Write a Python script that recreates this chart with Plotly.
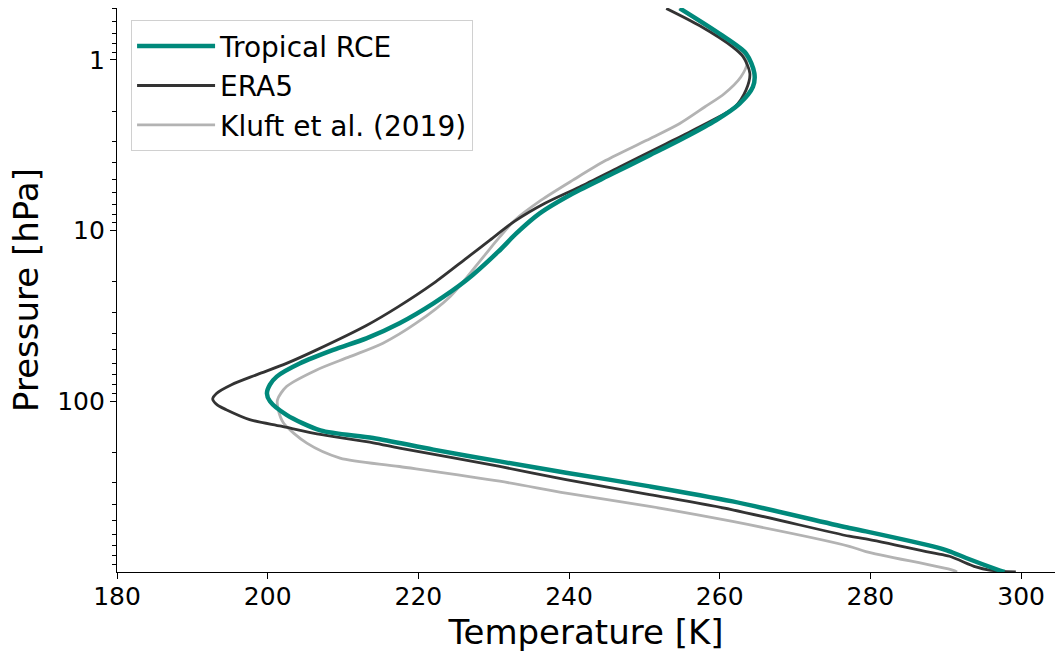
import plotly.graph_objects as go

# ---- data (pressure in hPa, temperature in K) ----
rce_p = [0.5, 0.705, 0.92, 1.2, 1.44, 1.81, 2.26, 2.89, 3.62, 4.64, 6.07, 7.94, 10.4, 13.3,
         19.5, 26.7, 34.9, 42.8, 50.0, 59.9, 71.7, 80, 90, 100, 120, 148, 164, 192, 225,
         262, 315, 386, 552, 578, 708, 756, 828, 977, 1000]
rce_t = [254.7, 260.0, 263.5, 264.6, 264.4, 262.6, 259.5, 255.1, 250.7, 245.8, 240.5, 236.1,
         233.0, 230.6, 226.4, 222.0, 217.5, 213.1, 208.7, 204.3, 201.2, 200.3, 199.9, 200.3,
         202.5, 207.0, 214.0, 222.0, 230.8, 239.6, 250.7, 261.7, 277.2, 279.4, 288.3,
         290.5, 292.7, 297.1, 297.8]

era_p = [0.5, 0.63, 0.84, 0.96, 1.2, 1.5, 1.89, 2.47, 3.1, 4.24, 5.55, 6.92, 8.81,
         11.38, 14.5, 20.4, 28, 36, 50, 60, 70, 80, 90, 97, 105, 112, 128, 140, 157, 175, 188,
         241, 288, 352, 432, 617, 640, 773, 809, 934, 975, 1000]
era_t = [252.9, 257.3, 261.7, 263.1, 264.0, 263.5, 262.0, 257.3, 252.9, 246.7, 241.4, 236.8,
         232.8, 229.5, 226.4, 222.0, 217.3, 213.1, 206.5, 202.5, 198.5, 195.2, 193.2,
         192.7, 193.3, 194.5, 197.6, 201.8, 207.2, 214.0, 217.5, 230.8, 239.6, 250.7, 261.7,
         277.2, 279.4, 288.3, 290.5, 294.0, 295.8, 299.3]

kluft_p = [0.5, 0.7, 0.9, 1.05, 1.26, 1.58, 1.89, 2.36, 2.96, 3.88, 5.07, 6.64, 8.7, 10.9,
           14.3, 24.4, 34.9, 45.7, 54.8, 65.5, 82, 98, 112, 134, 176, 215, 241, 294, 345,
           413, 506, 707, 759, 975, 1000]
kluft_t = [254.6, 259.6, 262.8, 263.6, 262.8, 260.6, 258.0, 254.7, 250.3, 244.9, 240.5,
           236.3, 232.8, 230.8, 228.6, 224.2, 219.7, 215.3, 210.9, 206.5, 202.5, 201.3, 201.4,
           202.1, 205.2, 209.6, 217.5, 230.8, 239.6, 250.7, 261.7, 277.2, 279.4,
           290.9, 291.5]

y_ticks = [1, 10, 100]
y_ticktext = ["1", "10", "100"]
y_minor = [0.5, 0.6, 0.7, 0.8, 0.9] + [m * d for d in (1, 10, 100) for m in range(2, 10)]
x_ticks = [180, 200, 220, 240, 260, 280, 300]

FONT = "DejaVu Sans"
TEAL = "#00897B"
DARK = "#333333"
GRAY = "#b3b3b3"

fig = go.Figure()
fig.add_trace(go.Scatter(x=kluft_t, y=kluft_p, mode="lines", name="Kluft et al. (2019)",
                         legendgroup="c", legendrank=3,
                         line=dict(color=GRAY, width=2.8, shape="spline", smoothing=0.8)))
fig.add_trace(go.Scatter(x=era_t, y=era_p, mode="lines", name="ERA5",
                         legendgroup="b", legendrank=2,
                         line=dict(color=DARK, width=2.8, shape="spline", smoothing=0.8)))
fig.add_trace(go.Scatter(x=rce_t, y=rce_p, mode="lines", name="Tropical RCE",
                         legendgroup="a", legendrank=1,
                         line=dict(color=TEAL, width=4.5, shape="spline", smoothing=0.8)))

fig.update_layout(
    width=1057, height=654,
    margin=dict(l=117, r=2, t=8, b=82),
    paper_bgcolor="white", plot_bgcolor="white",
    font=dict(family=FONT, color="black", size=25),
    showlegend=True,
    legend=dict(x=0.015, y=0.978, xanchor="left", yanchor="top",
                bgcolor="rgba(255,255,255,0.8)", bordercolor="#d0d0d0", borderwidth=1,
                font=dict(family=FONT, size=28, color="black"),
                traceorder="grouped", tracegroupgap=0, itemwidth=78),
)
fig.update_xaxes(
    range=[180, 304.5], tickvals=x_ticks, ticks="outside", ticklen=6, tickwidth=1.2,
    tickcolor="black", showline=True, linecolor="black", linewidth=1.2, showgrid=False,
    zeroline=False, mirror=False, tickfont=dict(family=FONT, size=25),
    ticklabelstandoff=-4,
    title=dict(text="Temperature [K]", font=dict(family=FONT, size=34), standoff=10),
)
fig.update_yaxes(
    type="log", range=[3.0, -0.3035], tickvals=y_ticks, ticktext=y_ticktext,
    ticks="outside", ticklen=6, tickwidth=1.2, tickcolor="black",
    minor=dict(tickvals=y_minor, ticks="outside", ticklen=3.5, tickwidth=1, tickcolor="black",
               showgrid=False),
    showline=True, linecolor="black", linewidth=1.2, showgrid=False, zeroline=False,
    tickfont=dict(family=FONT, size=25),
    title=dict(text="Pressure [hPa]", font=dict(family=FONT, size=34), standoff=8),
)

fig.write_html("out.html")
